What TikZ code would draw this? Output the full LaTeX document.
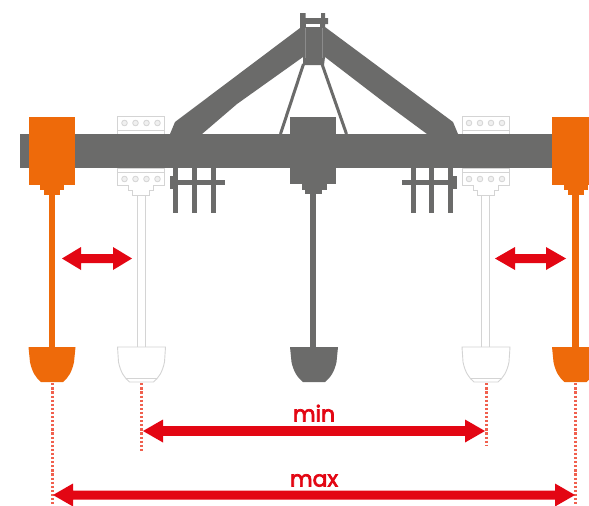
\documentclass[tikz,border=0pt]{standalone}
\usepackage{fontspec}
\setmainfont{Poppins}
\newfontfamily\lblfont[FakeBold=3.2]{Poppins}
\definecolor{beam}{HTML}{6B6B6A}
\definecolor{org}{HTML}{EE6A0A}
\definecolor{redx}{HTML}{E30613}
\definecolor{lite}{HTML}{D4D4D4}
\definecolor{dotred}{HTML}{F0604E}
\tikzset{
  dark/.style={fill=beam,draw=none},
  orange/.style={fill=org,draw=none},
  lineart/.style={draw=lite,line width=0.9pt,fill=white},
  dots/.style={draw=dotred,line width=3pt,dash pattern=on 2.2pt off 1.9pt},
  label/.style={text=redx,font=\lblfont\fontsize{22}{24}\selectfont,inner sep=0pt,anchor=base},
  pt/.style={inner sep=0pt,minimum size=0pt}
}
% #1 = x of left edge: white clamp with shank and shovel
\newcommand{\clamp}[1]{
  \begin{scope}[shift={(#1,0)}]
    \draw[lineart] (0,116) rectangle (47,134);
    \draw[lineart] (0,130) -- (47,130);
    \draw[lineart] (0,168) rectangle (47,185);
    \draw[lineart] (0,172) -- (47,172);
    \foreach \cx in {7,18,29,40}{
      \draw[lineart,line width=0.8pt,fill=lite!35] (\cx,123) circle (2.8);
      \draw[lineart,line width=0.8pt,fill=lite!35] (\cx,179) circle (2.8);
    }
    \draw[lineart] (11,185) -- (11,190) -- (15,190) -- (15,195) -- (32,195) -- (32,190) -- (36,190) -- (36,185);
    \draw[lineart] (19.5,195) rectangle (27.5,347);
    \draw[lineart] (0,347) -- (48,347) -- (47,362) .. controls (45,372) and (41,378) .. (36,382) -- (12,382) .. controls (7,378) and (3,372) .. (1,362) -- cycle;
    \draw[lineart,fill=none] (8.5,378) -- (39.5,378);
  \end{scope}
}
% #1 = centre x: orange clamp block, shank and shovel
\newcommand{\orangeset}[1]{
  \begin{scope}[shift={(#1,0)}]
    \fill[orange] (-23.5,117) rectangle (23,185);
    \fill[orange] (-12,185) rectangle (12,190);
    \fill[orange] (-8,190) rectangle (8,195);
    \fill[orange] (-3.2,195) rectangle (3.2,348);
    \fill[orange] (-23.5,347) -- (23.5,347) -- (22,362) .. controls (20,372) and (16,378) .. (11,382) -- (-11,382) .. controls (-16,378) and (-20,372) .. (-22,362) -- cycle;
  \end{scope}
}
\newcommand{\dblarrow}[5]{%
  % #1 left tip, #2 right tip, #3 y, #4 half shaft, #5 head length
  \fill[redx] (#1,#3) -- (#1+#5,#3-11.5) -- (#1+#5,#3-#4) -- (#2-#5,#3-#4) -- (#2-#5,#3-11.5) -- (#2,#3) -- (#2-#5,#3+11.5) -- (#2-#5,#3+#4) -- (#1+#5,#3+#4) -- (#1+#5,#3+11.5) -- cycle;}
\begin{document}
\begin{tikzpicture}[x=1pt,y=-1pt]
\useasboundingbox (0,0) rectangle (589,506);
\fill[white] (0,0) rectangle (589,506);

\clamp{117.5}
\clamp{462}

% three-point frame
\fill[dark] (170,134) -- (175,122) -- (300,28) -- (300,13) -- (305.5,13) -- (305.5,18) -- (321,18) -- (321,13) -- (325,13) -- (325,18) -- (328,18) -- (328,24) -- (325,24) -- (325,27)
  -- (453,122) -- (458,134) -- (427,134) -- (385,103) -- (325,57) -- (324,65) -- (303,65) -- (303,57) -- (237,104) -- (202,134) -- cycle;
\fill[white] (306,23.5) rectangle (320,26.5);
\draw[beam!78!white,line width=0.5pt] (305,28) -- (305,58) (322.5,28) -- (322.5,58);
\draw[beam,line width=3pt] (303.5,64) -- (280.5,134);
\draw[beam,line width=3pt] (322,64) -- (346.5,134);

% bolts
\foreach \bx in {173,192,211,411,429,448}{
  \fill[dark] (\bx,168) rectangle (\bx+5,213);
}
\fill[dark] (170,179.5) rectangle (225,185);
\fill[dark] (169.5,176) rectangle (174.5,189);
\fill[dark] (402,179.5) rectangle (456,185);
\fill[dark] (452,176) rectangle (457,189);

% centre shank
\fill[dark] (290,117) rectangle (336,184);
\fill[dark] (302,184) rectangle (327,190);
\fill[dark] (305,190) rectangle (322,194);
\fill[dark] (310,194) rectangle (316,348);
\fill[dark] (290,347) -- (338,347) -- (336.5,362) .. controls (334.5,372) and (330,378) .. (325,382) -- (303,382) .. controls (298,378) and (293.5,372) .. (291.5,362) -- cycle;

% main beam
\fill[dark] (20,134) rectangle (552,168);

\orangeset{52}
\orangeset{575.5}

% dotted guides
\node[pt] (oL) at (52,383) {};
\node[pt] (oLe) at (52,506) {};
\node[pt] (wL) at (141,383) {};
\node[pt] (wLe) at (141,451) {};
\node[pt] (wR) at (486,383) {};
\node[pt] (wRe) at (486,446) {};
\node[pt] (oR) at (575,383) {};
\node[pt] (oRe) at (575,506) {};
\draw[dots] (oL) -- (oLe);
\draw[dots] (wL) -- (wLe);
\draw[dots] (wR) -- (wRe);
\draw[dots] (oR) -- (oRe);

% red double arrows
\dblarrow{62}{132}{258.5}{4.5}{19}
\dblarrow{495}{566}{258.5}{4.5}{20}
\dblarrow{143}{485}{431}{4.8}{20}
\dblarrow{53}{575}{495}{4.5}{20}

\node[label] (minl) at (314,421.5) {min};
\node[label] (maxl) at (314,486.5) {max};
\end{tikzpicture}
\end{document}
